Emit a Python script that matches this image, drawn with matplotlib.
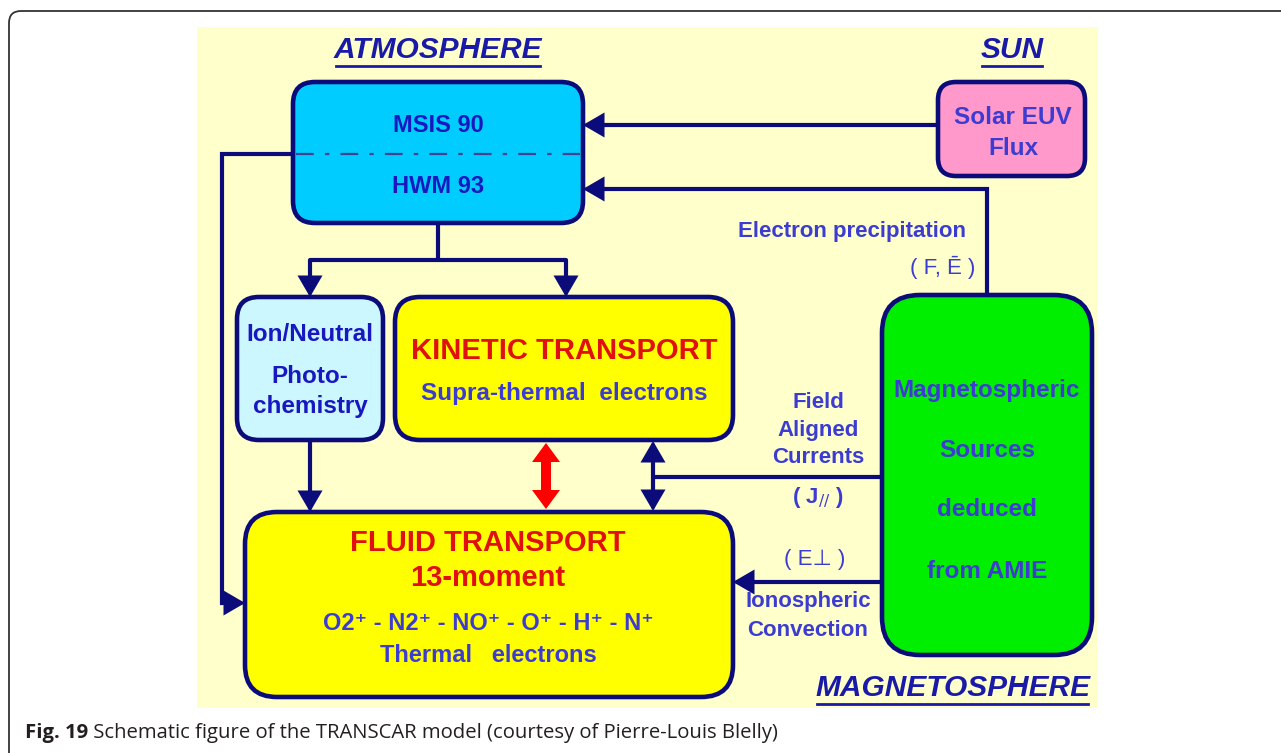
import matplotlib.pyplot as plt
from matplotlib.patches import FancyBboxPatch, FancyArrowPatch, Rectangle

# box labels (name, lines)
atm_lines = ["MSIS 90", "HWM 93"]
sun_lines = ["Solar EUV", "Flux"]
ion_lines = ["Ion/Neutral", "Photo-", "chemistry"]
kin_title = "KINETIC TRANSPORT"
kin_sub = "Supra-thermal  electrons"
fluid_title = ["FLUID TRANSPORT", "13-moment"]
fluid_sub = ["O2⁺ - N2⁺ - NO⁺ - O⁺ - H⁺ - N⁺", "Thermal   electrons"]
mag_lines = ["Magnetospheric", "Sources", "deduced", "from AMIE"]
fac_lines = ["Field", "Aligned", "Currents"]
conv_lines = ["Ionospheric", "Convection"]
titles = ["ATMOSPHERE", "SUN", "MAGNETOSPHERE"]
caption_bold = "Fig. 19"
caption_rest = " Schematic figure of the TRANSCAR model (courtesy of Pierre-Louis Blelly)"

NAVY = "#0B0B7A"
DARK = "#1818C0"
LIGHT = "#3C3CD2"
RED = "#E01010"
FONT = ["Liberation Sans", "DejaVu Sans"]

fig = plt.figure(figsize=(12.81, 7.53), dpi=100)
ax = fig.add_axes([0, 0, 1, 1])
ax.set_xlim(0, 1281)
ax.set_ylim(753, 0)
ax.axis("off")

# outer frame (only top & left visible)
frame = FancyBboxPatch((9, 11), 1320, 800, boxstyle="round,pad=0,rounding_size=12",
                       fc="white", ec="#333333", lw=1.3, zorder=0)
ax.add_patch(frame)

# pale yellow panel
ax.add_patch(Rectangle((197, 27), 901, 681, fc="#FFFFCC", ec="none", zorder=1))


def rbox(x0, y0, x1, y1, fc, r):
    p = FancyBboxPatch((x0, y0), x1 - x0, y1 - y0,
                       boxstyle=f"round,pad=0,rounding_size={r}",
                       fc=fc, ec=NAVY, lw=3.3, zorder=3)
    ax.add_patch(p)


def line(xs, ys):
    ax.plot(xs, ys, color=NAVY, lw=3, solid_capstyle="butt",
            solid_joinstyle="miter", zorder=2)


def arrow(p0, p1, style="-|>"):
    a = FancyArrowPatch(p0, p1, arrowstyle=f"{style},head_length=0.55,head_width=0.32",
                        mutation_scale=20, color=NAVY, lw=3, shrinkA=0, shrinkB=0,
                        joinstyle="miter", zorder=4)
    ax.add_patch(a)


def txt(x, y, s, size, color, weight="bold", style="normal", ha="center"):
    return ax.text(x, y, s, fontsize=size, color=color, fontweight=weight,
                   fontstyle=style, ha=ha, va="center", family=FONT, zorder=5)


# connections
arrow((938, 125), (583, 125))
line([987, 987, 600], [295, 189, 189])
arrow((600, 189), (583, 189))
line([438, 438], [223, 260])
line([310, 566], [260, 260])
arrow((310, 260), (310, 297))
arrow((566, 260), (566, 297))
arrow((310, 440), (310, 512))
arrow((653, 441), (653, 511), style="<|-|>")
line([653, 882], [477, 477])
arrow((882, 582), (733, 582))
line([293, 222, 222, 230], [154, 154, 603, 603])
arrow((228, 603), (245, 603))

# red double arrow between kinetic and fluid transport
for dy in (-33, 33):
    ax.arrow(546, 476, 0, dy, width=10, head_width=28, head_length=19,
             length_includes_head=True, fc="#FF0000", ec="none", zorder=4)

# boxes
rbox(293, 82, 583, 223, "#00CCFF", 22)
rbox(938, 82, 1085, 176, "#FF99CC", 18)
rbox(237, 297, 383, 440, "#CCF7FF", 22)
rbox(395, 297, 733, 440, "#FFFF00", 25)
rbox(245, 512, 733, 697, "#FFFF00", 32)
rbox(882, 295, 1092, 655, "#00EE00", 38)
ax.plot([296, 580], [154, 154], color="#404090", lw=1.6, dashes=(8, 5, 2, 5), zorder=4)

# box texts
for s, y in zip(atm_lines, [125, 186]):
    txt(438, y, s, 17, DARK)
for s, y in zip(sun_lines, [117, 148]):
    txt(1013, y, s, 17.5, LIGHT)
for s, y in zip(ion_lines, [334, 376, 406]):
    txt(310, y, s, 17.5, DARK)
txt(564, 351, kin_title, 21, RED)
txt(564, 393, kin_sub, 17.5, LIGHT)
for s, y in zip(fluid_title, [543, 578]):
    txt(488, y, s, 21, RED)
for s, y in zip(fluid_sub, [623, 655]):
    txt(488, y, s, 17, LIGHT)
for s, y in zip(mag_lines, [390, 450, 510, 571]):
    txt(987, y, s, 17.5, LIGHT)

# connection labels
txt(852, 231, "Electron precipitation", 16, LIGHT)
txt(943, 267, "( F, Ē )", 16, LIGHT, weight="normal")
for s, y in zip(fac_lines, [402, 430, 457]):
    txt(818, y, s, 16, LIGHT)
txt(818, 497, r"( J$_{//}$ )", 16, LIGHT)
txt(815, 560, "( E⊥ )", 16, LIGHT, weight="normal")
for s, y in zip(conv_lines, [602, 630]):
    txt(808, y, s, 16, LIGHT)

# underlined section titles
title_pos = [(438, 50, "center"), (1012, 50, "center"), (1090, 688, "right")]
title_txts = [txt(x, y, s, 21.5, "#1A1AA8", style="italic", ha=ha)
              for s, (x, y, ha) in zip(titles, title_pos)]

# caption
cap1 = ax.text(25, 733, caption_bold, fontsize=14.6, fontweight="bold", color="#231F20",
               family="Open Sans", va="center", ha="left")

fig.canvas.draw()
r = fig.canvas.get_renderer()
inv = ax.transData.inverted()
for t in title_txts:
    bb = t.get_window_extent(r)
    (xa, ya), (xb, yb) = inv.transform([[bb.x0, bb.y0], [bb.x1, bb.y1]])
    ax.plot([xa + 2, xb - 2], [ya + 2, ya + 2], color="#1A1AA8", lw=2, zorder=5)
bb = cap1.get_window_extent(r)
x_end = inv.transform([[bb.x1, bb.y0]])[0][0]
ax.text(x_end, 733, caption_rest, fontsize=14.6, color="#231F20",
        family="Open Sans", va="center", ha="left")

fig.savefig("out.png", dpi=100)
